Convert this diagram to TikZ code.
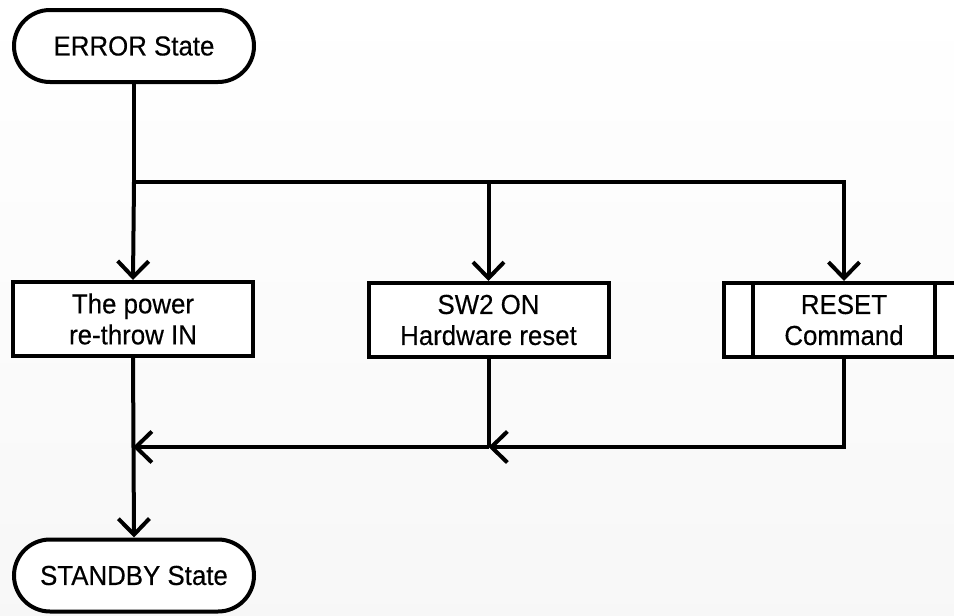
\documentclass[tikz,border=0pt]{standalone}
\usepackage{fontspec}
\setmainfont[FakeStretch=0.94, FakeBold=0.3]{Liberation Sans}
\usetikzlibrary{arrows.meta}

\tikzset{
  wire/.style={line width=4pt, line join=miter},
  arr/.style={wire, -{Straight Barb[length=16pt, width=31pt, line width=4pt]}},
  terminal/.style={draw, line width=4pt, fill=white, rounded corners=36pt,
    minimum width=240pt, minimum height=72pt, inner sep=0pt,
    font=\fontsize{27.5}{31}\selectfont},
  procbox/.style={draw, line width=4pt, fill=white,
    minimum width=240pt, minimum height=74pt, inner sep=0pt, align=center,
    font=\fontsize{27.5}{31}\selectfont},
}

\begin{document}
\begin{tikzpicture}[x=1pt, y=1pt]
  % page frame and soft grey background
  \useasboundingbox (0,0) rectangle (954,-616);
  \shade[top color=white, middle color=black!7, bottom color=black!3]
    (0,0) rectangle (954,-616);

  % nodes
  \node[terminal] (err) at (134,-46) {ERROR State};
  \node[procbox] (b1) at (133,-319) {The power\\re-throw IN};
  \node[procbox] (b2) at (488.5,-320) {SW2 ON\\Hardware reset};
  \node[procbox] (b3) at (844,-320) {RESET\\Command};
  \draw[line width=4pt] ([xshift=31pt]b3.north west) -- ([xshift=31pt]b3.south west);
  \draw[line width=4pt] ([xshift=-31pt]b3.north east) -- ([xshift=-31pt]b3.south east);
  \node[terminal] (stb) at (134,-575.5) {STANDBY State};

  % branching coordinates
  \coordinate (j1) at (err.south |- 0,-182);
  \coordinate (j2) at (b2.north |- j1);
  \coordinate (r2) at (b2.south |- 0,-447);
  \coordinate (r1) at (b1.south |- r2);

  % fan-out from the error state
  \draw[wire] (err.south) -- (j1);
  \draw[arr] (j1) -- (b1.north);
  \draw[arr] (j2) -- (b2.north);
  \draw[arr] (j1) -| (b3.north);

  % merge back into standby
  \draw[wire] (b2.south) -- (r2);
  \draw[arr] (b3.south) |- (r2);
  \draw[arr] (r2) -- (r1);
  \draw[arr] (b1.south) -- (stb.north);
\end{tikzpicture}
\end{document}
